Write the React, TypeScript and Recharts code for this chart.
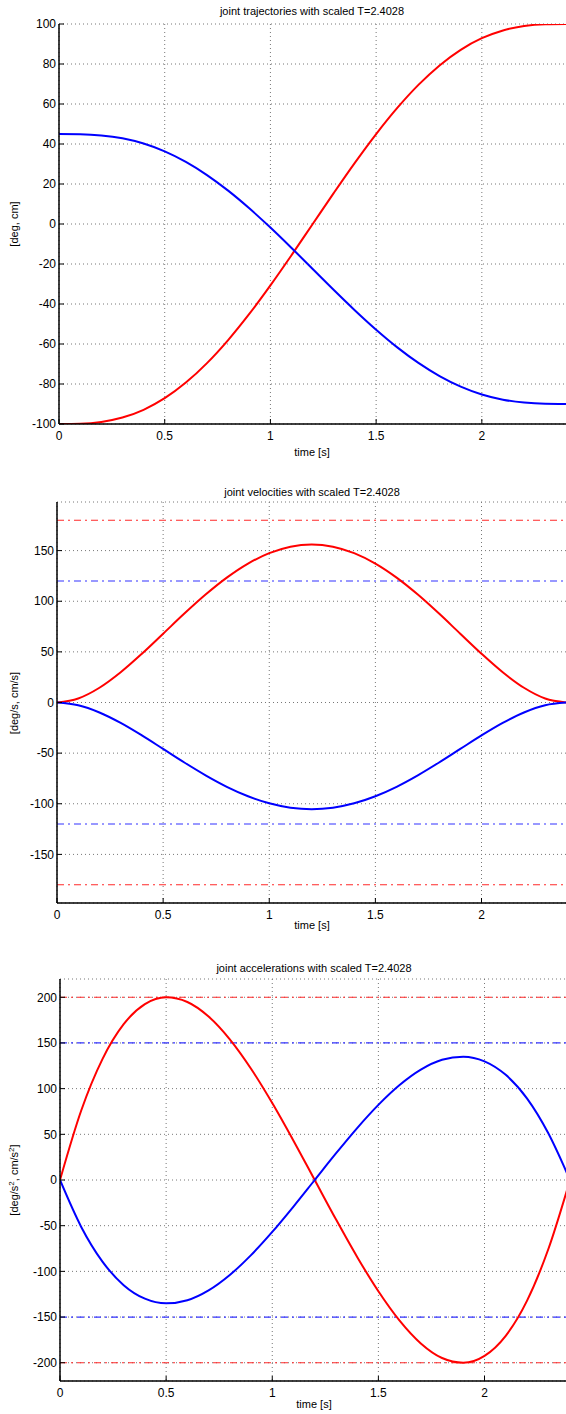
import React from 'react';
import { LineChart, Line, XAxis, YAxis, CartesianGrid, ReferenceLine } from 'recharts';

const times = [0, 0.1, 0.2, 0.3, 0.4, 0.5, 0.6, 0.7, 0.8, 0.9, 1.0, 1.1, 1.2, 1.3, 1.4, 1.5, 1.6, 1.7, 1.8, 1.9, 2.0, 2.1, 2.2, 2.3, 2.4028];

const posJ1 = [-100, -99.86, -98.98, -96.79, -92.9, -87.1, -79.3, -69.55, -58.02, -44.96, -30.68, -15.55, 0, 15.55, 30.68, 44.96, 58.02, 69.55, 79.3, 87.1, 92.9, 96.79, 98.98, 99.86, 100];
const posJ2 = [45, 44.91, 44.31, 42.83, 40.21, 36.29, 31.03, 24.45, 16.67, 7.85, -1.79, -12.0, -22.5, -33.0, -43.21, -52.85, -61.67, -69.45, -76.03, -81.29, -85.21, -87.83, -89.31, -89.91, -90];

const velJ1 = [0, 3.98, 14.57, 29.87, 48.17, 67.93, 87.79, 106.58, 123.31, 137.17, 147.52, 153.91, 156.07, 153.91, 147.52, 137.17, 123.31, 106.58, 87.79, 67.93, 48.17, 29.87, 14.57, 3.98, 0];
const velJ2 = [0, -2.69, -9.84, -20.16, -32.51, -45.85, -59.26, -71.94, -83.24, -92.59, -99.57, -103.89, -105.35, -103.89, -99.57, -92.59, -83.24, -71.94, -59.26, -45.85, -32.51, -20.16, -9.84, -2.69, 0];

const accJ1 = [0, 76.08, 132.31, 170.5, 192.45, 199.97, 194.86, 178.92, 153.96, 121.79, 84.2, 43.0, 0, -43.0, -84.2, -121.79, -153.96, -178.92, -194.86, -199.97, -192.45, -170.5, -132.31, -76.08, 0];
const accJ2 = [0, -51.35, -89.31, -115.09, -129.91, -134.98, -131.53, -120.77, -103.92, -82.21, -56.83, -29.03, 0, 29.03, 56.83, 82.21, 103.92, 120.77, 131.53, 134.98, 129.91, 115.09, 89.31, 51.35, 0];

const velLimitsJ1 = [180, -180];
const velLimitsJ2 = [120, -120];
const accLimitsJ1 = [200, -200];
const accLimitsJ2 = [150, -150];

const xTicks = [0, 0.5, 1, 1.5, 2];
const posTicks = [-100, -80, -60, -40, -20, 0, 20, 40, 60, 80, 100];
const velTicks = [-150, -100, -50, 0, 50, 100, 150];
const accTicks = [-200, -150, -100, -50, 0, 50, 100, 150, 200];

const T_END = 2.4028;

const FONT = '"Liberation Sans", Arial, Helvetica, sans-serif';
const RED = '#ff0000';
const BLUE = '#0000ff';
const LIM_RED = '#ff2a2a';
const LIM_BLUE = '#3333ff';
const DASHDOT = '7 4 2 4';

function buildRows(a: number[], b: number[]) {
  return times.map((t, i) => ({ t, j1: a[i], j2: b[i] }));
}

type PanelProps = {
  panelTop: number;
  plotTop: number;
  plotBottom: number;
  plotLeft: number;
  plotRight: number;
  domain: [number, number];
  ticks: number[];
  rows: { t: number; j1: number; j2: number }[];
  limitsRed?: number[];
  limitsBlue?: number[];
};

const CHART_W = 600;

function Panel(p: PanelProps) {
  const height = p.plotBottom - p.panelTop + 50;
  const xAxisH = height - (p.plotBottom - p.panelTop);
  const tickStyle = { fill: '#000', fontSize: 12, fontFamily: FONT };
  return (
    <div style={{ position: 'absolute', left: 0, top: p.panelTop }}>
      <LineChart
        width={CHART_W}
        height={height}
        data={p.rows}
        margin={{ top: p.plotTop - p.panelTop, right: CHART_W - p.plotRight, left: 0, bottom: 0 }}
      >
        <CartesianGrid stroke="#777" strokeDasharray="1 3" strokeWidth={1} />
        <XAxis
          dataKey="t"
          type="number"
          domain={[0, T_END]}
          ticks={xTicks}
          height={xAxisH}
          tickSize={-5}
          tickMargin={12}
          tick={tickStyle}
          axisLine={{ stroke: '#000', strokeWidth: 1.5 }}
          tickLine={{ stroke: '#000' }}
          allowDataOverflow
        />
        <XAxis
          xAxisId="top"
          orientation="top"
          dataKey="t"
          type="number"
          domain={[0, T_END]}
          ticks={xTicks}
          height={0}
          tickSize={-5}
          tick={false}
          axisLine={{ stroke: '#000', strokeWidth: 1.5 }}
          tickLine={{ stroke: '#000' }}
          allowDataOverflow
        />
        <YAxis
          type="number"
          domain={p.domain}
          ticks={p.ticks}
          width={p.plotLeft}
          tickSize={-5}
          tickMargin={8}
          tick={tickStyle}
          axisLine={{ stroke: '#000', strokeWidth: 1.5 }}
          tickLine={{ stroke: '#000' }}
          allowDataOverflow
        />
        <YAxis
          yAxisId="right"
          orientation="right"
          type="number"
          domain={p.domain}
          ticks={p.ticks}
          width={0}
          tickSize={-5}
          tick={false}
          axisLine={{ stroke: '#000', strokeWidth: 1.5 }}
          tickLine={{ stroke: '#000' }}
          allowDataOverflow
        />
        {(p.limitsRed || []).map((v, i) => (
          <ReferenceLine key={'r' + i} y={v} stroke={LIM_RED} strokeDasharray={DASHDOT} strokeWidth={1.2} />
        ))}
        {(p.limitsBlue || []).map((v, i) => (
          <ReferenceLine key={'b' + i} y={v} stroke={LIM_BLUE} strokeDasharray={DASHDOT} strokeWidth={1.2} />
        ))}
        <Line type="monotone" dataKey="j1" stroke={RED} strokeWidth={2} dot={false} isAnimationActive={false} />
        <Line type="monotone" dataKey="j2" stroke={BLUE} strokeWidth={2} dot={false} isAnimationActive={false} />
      </LineChart>
    </div>
  );
}

function Txt({ x, y, children, rotate }: { x: number; y: number; children: React.ReactNode; rotate?: boolean }) {
  return (
    <div
      style={{
        position: 'absolute',
        left: x,
        top: y,
        transform: `translate(-50%, -50%)${rotate ? ' rotate(-90deg)' : ''}`,
        whiteSpace: 'nowrap',
        fontFamily: FONT,
        fontSize: 11,
        color: '#000',
        lineHeight: 1,
      }}
    >
      {children}
    </div>
  );
}

export default function App() {
  return (
    <div
      style={{
        position: 'absolute',
        left: 0,
        top: 0,
        width: 566,
        height: 1414,
        overflow: 'hidden',
        background: '#fff',
      }}
    >
      <Panel panelTop={0} plotTop={24} plotBottom={424} plotLeft={59} plotRight={567} domain={[-100, 100]} ticks={posTicks} rows={buildRows(posJ1, posJ2)} />
      <Panel panelTop={470} plotTop={502} plotBottom={903} plotLeft={57} plotRight={567} domain={[-198, 198]} ticks={velTicks} rows={buildRows(velJ1, velJ2)} limitsRed={velLimitsJ1} limitsBlue={velLimitsJ2} />
      <Panel panelTop={950} plotTop={979} plotBottom={1381} plotLeft={60} plotRight={570} domain={[-220, 220]} ticks={accTicks} rows={buildRows(accJ1, accJ2)} limitsRed={accLimitsJ1} limitsBlue={accLimitsJ2} />

      <Txt x={312} y={11}>joint trajectories with scaled T=2.4028</Txt>
      <Txt x={312} y={452}>time [s]</Txt>
      <Txt x={14} y={224} rotate>[deg, cm]</Txt>

      <Txt x={312} y={492}>joint velocities with scaled T=2.4028</Txt>
      <Txt x={312} y={925}>time [s]</Txt>
      <Txt x={14} y={703} rotate>[deg/s, cm/s]</Txt>

      <Txt x={314} y={968}>joint accelerations with scaled T=2.4028</Txt>
      <Txt x={314} y={1404}>time [s]</Txt>
      <Txt x={14} y={1180} rotate>
        [deg/s<sup style={{ fontSize: 8 }}>2</sup>, cm/s<sup style={{ fontSize: 8 }}>2</sup>]
      </Txt>
    </div>
  );
}
